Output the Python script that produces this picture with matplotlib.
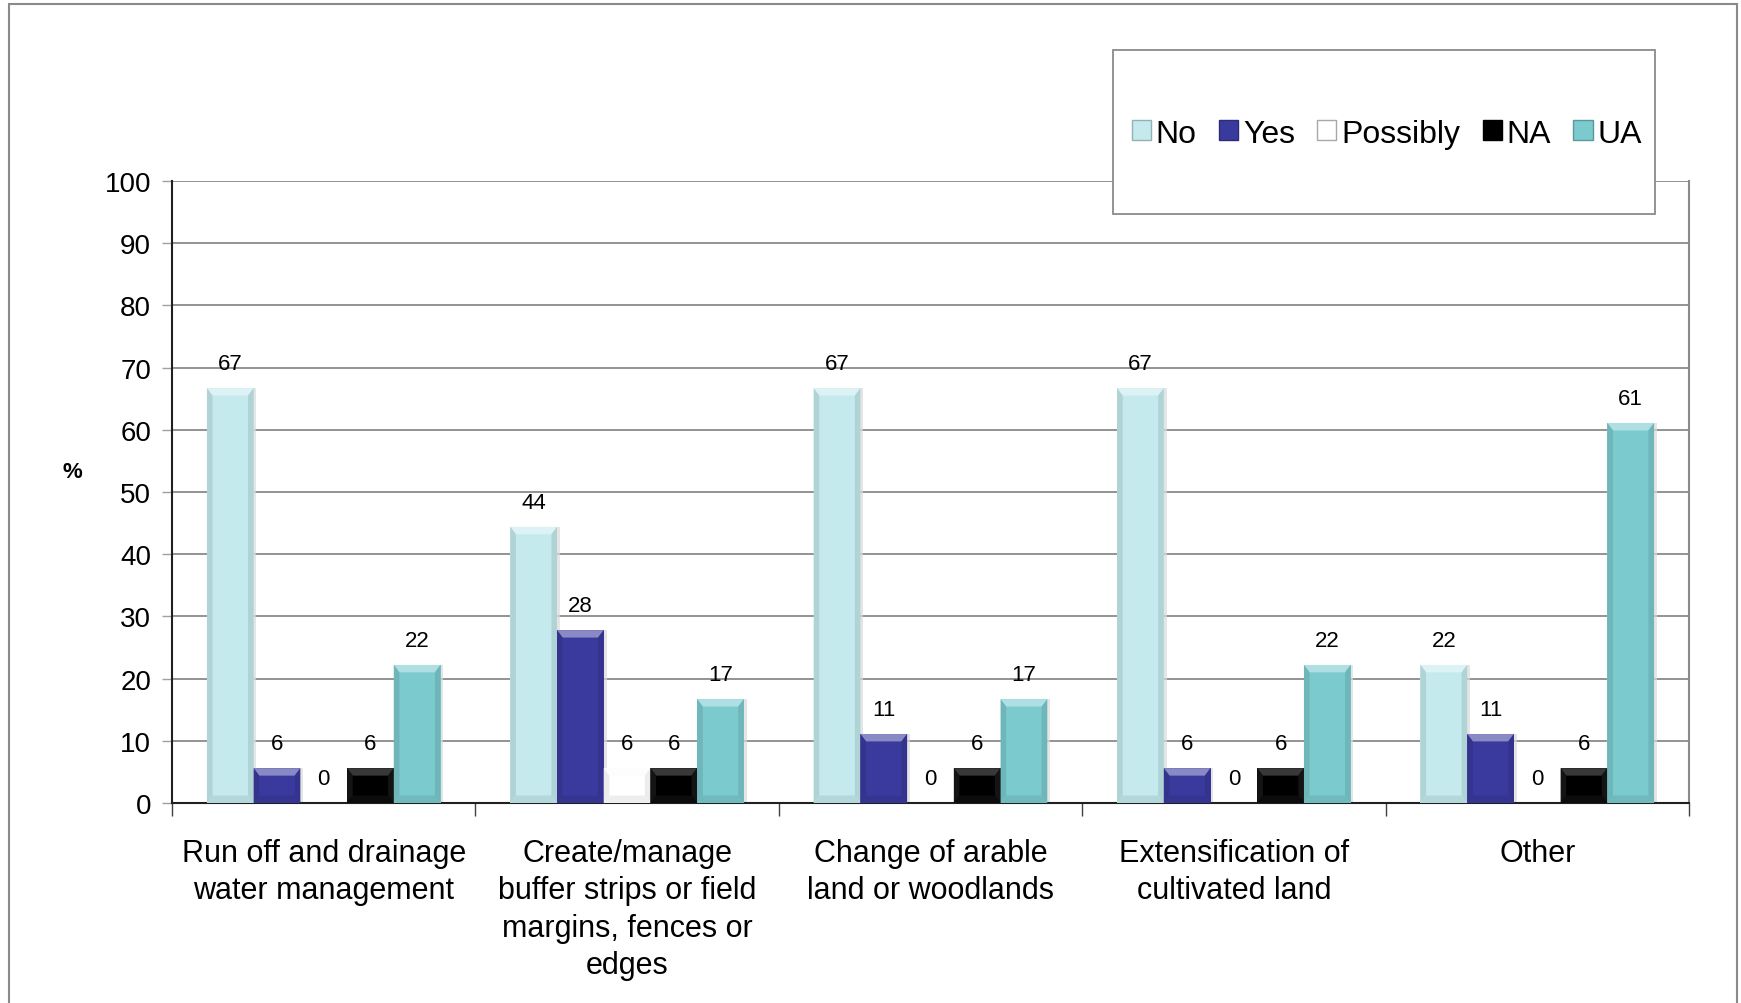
import numpy as np
import matplotlib.pyplot as plt
from matplotlib.patches import Rectangle, Polygon
from matplotlib.colors import to_rgb

plt.rcParams['font.family'] = ['Liberation Sans', 'DejaVu Sans']

categories = [
    "Run off and drainage\nwater management",
    "Create/manage\nbuffer strips or field\nmargins, fences or\nedges",
    "Change of arable\nland or woodlands",
    "Extensification of\ncultivated land",
    "Other",
]
series = ["No", "Yes", "Possibly", "NA", "UA"]
# shares of 18 respondents, in percent
no_vals = [66.7, 44.4, 66.7, 66.7, 22.2]
yes_vals = [5.6, 27.8, 11.1, 5.6, 11.1]
possibly_vals = [0.0, 5.6, 0.0, 0.0, 0.0]
na_vals = [5.6, 5.6, 5.6, 5.6, 5.6]
ua_vals = [22.2, 16.7, 16.7, 22.2, 61.1]
values = [no_vals, yes_vals, possibly_vals, na_vals, ua_vals]
colors = ["#c4eaee", "#3a3a9e", "#ffffff", "#000000", "#7acace"]


def shade(c, f):
    # f > 0 lightens towards white, f < 0 darkens towards black
    r = np.array(to_rgb(c))
    if f >= 0:
        return tuple(r + (1 - r) * f)
    return tuple(r * (1 + f))


def bevel(ax, x0, w, h, color):
    if h <= 0:
        return
    bx = w * 0.12
    by = min(1.2, h / 3)
    x1 = x0 + w
    base = color if color != "#ffffff" else "#fbfbfb"
    top = shade(base, 0.4) if color != "#000000" else "#383838"
    side = shade(base, -0.1) if color != "#ffffff" else "#ececec"
    bottom = shade(base, -0.08) if color != "#ffffff" else "#eeeeee"
    if color == "#000000":
        side, bottom = "#141414", "#0c0c0c"
    ax.add_patch(Polygon([(x0, h), (x1, h), (x1 - bx, h - by), (x0 + bx, h - by)],
                         closed=True, fc=top, ec="none", zorder=4))
    ax.add_patch(Polygon([(x0, 0), (x0 + bx, by), (x0 + bx, h - by), (x0, h)],
                         closed=True, fc=side, ec="none", zorder=4))
    ax.add_patch(Polygon([(x1, 0), (x1 - bx, by), (x1 - bx, h - by), (x1, h)],
                         closed=True, fc=side, ec="none", zorder=4))
    ax.add_patch(Polygon([(x0, 0), (x1, 0), (x1 - bx, by), (x0 + bx, by)],
                         closed=True, fc=bottom, ec="none", zorder=4))


fig = plt.figure(figsize=(17.41, 10.04), dpi=100)
ax = fig.add_axes([0.0988, 0.1992, 0.8713, 0.6195])

x = np.arange(len(categories))
width = 0.154
offsets = (np.arange(len(series)) - 2) * width

for vals, name, col, off in zip(values, series, colors, offsets):
    bars = ax.bar(x + off, vals, width, color=col, label=name, zorder=3,
                  edgecolor="none")
    for b, v in zip(bars, vals):
        # soft shadow on the right of each bar
        ax.add_patch(Rectangle((b.get_x() + b.get_width(), 0), width * 0.06, v,
                               fc="#dadada", ec="none", zorder=2.5, alpha=0.7))
        bevel(ax, b.get_x(), b.get_width(), v, col)
        ax.text(b.get_x() + b.get_width() / 2, v + 2.2, f"{v:.0f}",
                ha="center", va="bottom", fontsize=16, zorder=6)

ax.set_xlim(-0.5, len(categories) - 0.5)
ax.set_ylim(0, 100)
ax.set_yticks(np.arange(0, 101, 10))
ax.yaxis.grid(True, color="#8a8a8a", linewidth=1.3, zorder=0)
ax.set_axisbelow(True)
ax.tick_params(axis="y", labelsize=20, length=7, width=1, color="#a0a0a0", pad=8)

ax.set_xticks(x)
ax.set_xticklabels(categories, fontsize=22, linespacing=1.33)
ax.tick_params(axis="x", length=0, pad=25)
ax.set_xticks(np.arange(-0.5, len(categories)), minor=True)
ax.tick_params(axis="x", which="minor", length=9, width=1, color="#404040")

for side in ["left", "bottom"]:
    ax.spines[side].set_color("#202020")
    ax.spines[side].set_linewidth(1.5)
ax.spines["right"].set_color("#8a8a8a")
ax.spines["right"].set_linewidth(1.5)
ax.spines["top"].set_visible(False)

fig.text(0.0415, 0.529, "%", fontsize=16, fontweight="bold", ha="center", va="center")

# outer frame of the chart area
fig.patches.append(Rectangle((0.0052, -0.01), 0.9925, 1.005, transform=fig.transFigure,
                             fill=False, ec="#8a8a8a", lw=1.5))

# legend box
fig.patches.append(Rectangle((0.6393, 0.786), 0.3113, 0.163, transform=fig.transFigure,
                             fc="white", ec="#8a8a8a", lw=1.3, zorder=10))
handles = [Rectangle((0, 0), 1, 1, fc=c, ec=shade(c if c != "#ffffff" else "#e0e0e0", -0.25), lw=1)
           for c in colors]
leg = fig.legend(handles, series, loc="center", bbox_to_anchor=(0.7965, 0.866),
                 ncol=5, frameon=False, fontsize=23, handlelength=0.6,
                 handleheight=0.6, handletextpad=0.15, columnspacing=0.7)
leg.set_zorder(11)

fig.savefig("out.png", dpi=100)
